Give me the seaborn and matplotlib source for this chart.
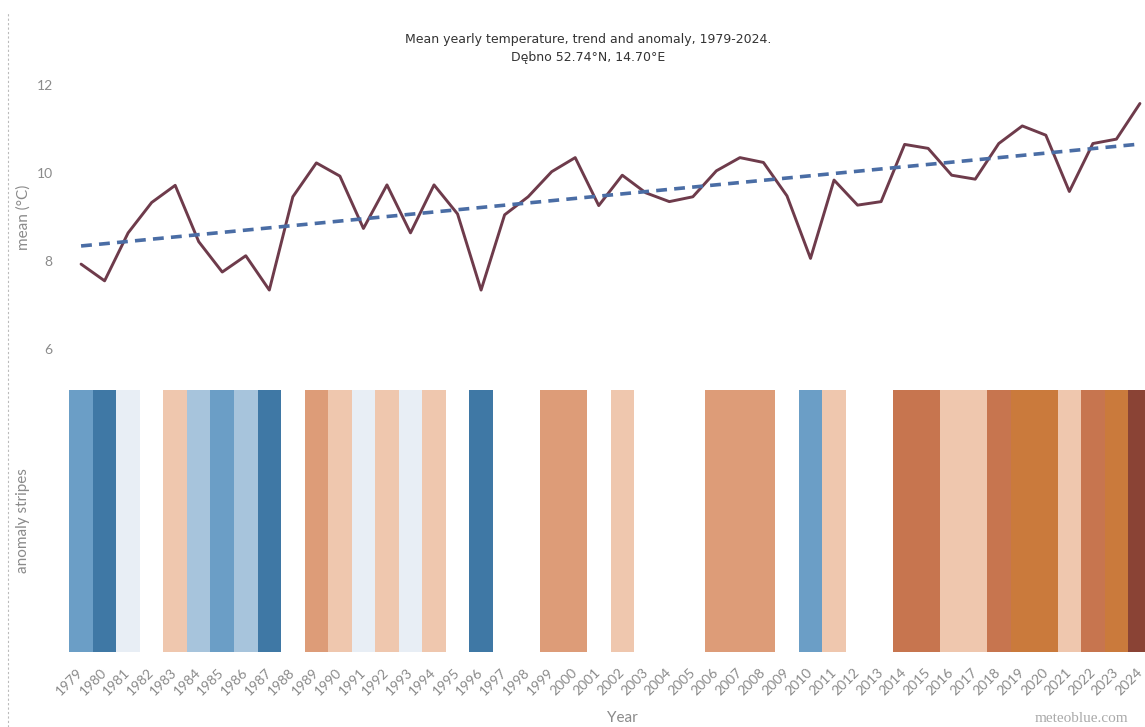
import numpy as np
import pandas as pd
import matplotlib
matplotlib.use("Agg")
import matplotlib.pyplot as plt
from matplotlib.colors import ListedColormap
from matplotlib.lines import Line2D
import seaborn as sns

# yearly mean temperature
years = list(range(1979, 2025))
mean_temp = [7.93, 7.55, 8.64, 9.33, 9.72, 8.44, 7.75, 8.12, 7.34, 9.46,
             10.23, 9.93, 8.74, 9.73, 8.64, 9.73, 9.07, 7.34, 9.05, 9.46,
             10.03, 10.35, 9.26, 9.95, 9.55, 9.35, 9.46, 10.05, 10.35, 10.24,
             9.48, 8.06, 9.84, 9.27, 9.35, 10.65, 10.56, 9.95, 9.86, 10.67,
             11.07, 10.86, 9.58, 10.67, 10.77, 11.58]

# anomaly classes for the stripes (class edges in degC)
class_bounds = [7.65, 8.09, 8.55, 8.95, 9.565, 10.0, 10.45, 10.72, 11.3]
stripe_colors = ["#3f78a5", "#6b9ec6", "#a7c4dc", "#e8eef5", "#ffffff",
                 "#efc7ae", "#dd9c78", "#c7754f", "#ca7a3c", "#8a4335"]

sns.set_theme(style="white")
plt.rcParams['font.family'] = ['Lato', 'DejaVu Sans']

df = pd.DataFrame({"year": years, "mean": mean_temp})
slope, intercept = np.polyfit(df["year"], df["mean"], 1)
df["trend"] = intercept + slope * df["year"]

fig = plt.figure(figsize=(11.45, 7.27), dpi=100)
left = 69.3 / 1145
width = (1151.7 - 69.3) / 1145
ax_top = fig.add_axes([left, 0.5078, width, 0.4479])
ax_bot = fig.add_axes([left, 0.1032, width, 0.3604])

# top panel: mean and linear trend
sns.lineplot(data=df, x="year", y="mean", color="#6e3b4b", linewidth=2.1, ax=ax_top)
sns.lineplot(data=df, x="year", y="trend", color="#4a6da5", linewidth=2.6,
             linestyle=(0, (3, 2)), ax=ax_top)
ax_top.set_xlim(1978.5, 2024.5)
ax_top.set_ylim(5.8, 13.2)
ax_top.set_yticks([6, 8, 10, 12])
ax_top.set_xticks([])
ax_top.set_xlabel("")
ax_top.set_ylabel("mean (°C)", color="#8a8a8a", fontsize=11)
ax_top.yaxis.set_label_coords(-0.036, 0.43)
ax_top.tick_params(axis="y", length=0, pad=12, labelsize=10, labelcolor="#8a8a8a")
sns.despine(ax=ax_top, left=True, bottom=True)

# bottom panel: anomaly stripes
cls = np.digitize(mean_temp, class_bounds)
stripe = pd.DataFrame([cls], columns=years)
sns.heatmap(stripe, cmap=ListedColormap(stripe_colors), vmin=-0.5,
            vmax=len(stripe_colors) - 0.5, cbar=False, ax=ax_bot,
            xticklabels=years, yticklabels=False)
ax_bot.set_xlabel("")
ax_bot.set_ylabel("anomaly stripes", color="#8a8a8a", fontsize=11)
ax_bot.yaxis.set_label_coords(-0.036, 0.5)
ax_bot.tick_params(axis="x", length=0, pad=13, labelsize=10, labelcolor="#8a8a8a")
for lab in ax_bot.get_xticklabels():
    lab.set_rotation(45)
    lab.set_ha("right")
    lab.set_va("center")
    lab.set_rotation_mode("anchor")

# titles and footer
fig.text(588 / 1145, 1 - 40 / 727, "Mean yearly temperature, trend and anomaly, 1979-2024.",
         ha="center", va="center", fontsize=9, color="#333333", family="DejaVu Sans")
fig.text(588 / 1145, 1 - 58 / 727, "Dębno 52.74°N, 14.70°E",
         ha="center", va="center", fontsize=9, color="#333333", family="DejaVu Sans")
fig.text(622 / 1145, 1 - 718 / 727, "Year", ha="center", va="center",
         fontsize=11, color="#8a8a8a")
fig.text(1035 / 1145, 1 - 718 / 727, "meteoblue.com", ha="left", va="center",
         fontsize=11, color="#aaaaaa", family="Liberation Serif")

# faint page border on the left
fig.add_artist(Line2D([8 / 1145, 8 / 1145], [0, 1 - 12 / 727], transform=fig.transFigure,
                      color="#bbbbbb", linewidth=0.8, linestyle=(0, (2, 2))))

fig.savefig("out.png", dpi=100)
